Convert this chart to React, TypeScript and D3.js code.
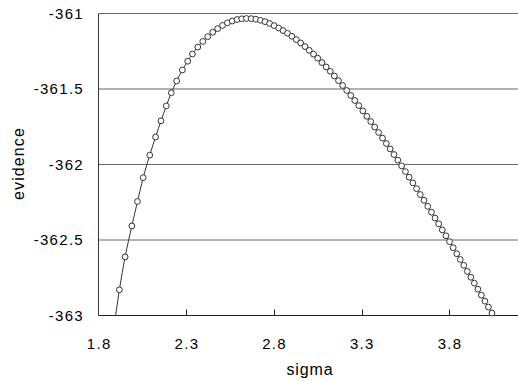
import React from "react";
import * as d3 from "d3";

const sigma = [
  1.8853, 1.9191, 1.9518, 1.9902, 2.0222, 2.0549, 2.0921, 2.1253, 2.1562, 2.1866,
  2.2152, 2.2456, 2.2782, 2.3086, 2.3355, 2.3659, 2.3945, 2.4231, 2.4512, 2.4793,
  2.5073, 2.5348, 2.5623, 2.5898, 2.6167, 2.6437, 2.6706, 2.6969, 2.7233, 2.7496,
  2.7754, 2.8012, 2.8269, 2.8521, 2.8773, 2.9025, 2.9277, 2.9524, 2.977, 3.0016,
  3.0257, 3.0497, 3.0738, 3.0978, 3.1213, 3.1448, 3.1683, 3.1918, 3.2152, 3.2382,
  3.2611, 3.284, 3.3069, 3.3298, 3.3521, 3.3745, 3.3968, 3.4191, 3.4409, 3.4627,
  3.4844, 3.5062, 3.528, 3.5497, 3.5709, 3.5921, 3.6133, 3.6345, 3.6557, 3.6769,
  3.6981, 3.7187, 3.7393, 3.7599, 3.7805, 3.8012, 3.8218, 3.8424, 3.8624, 3.8825,
  3.9025, 3.9226, 3.9426, 3.9627, 3.9827, 4.0028, 4.0228, 4.0429,
];

const evidence = [
  -363.103, -362.83, -362.612, -362.407, -362.245, -362.087, -361.938, -361.818, -361.711, -361.612,
  -361.525, -361.447, -361.374, -361.316, -361.268, -361.222, -361.185, -361.153, -361.124, -361.1,
  -361.079, -361.062, -361.05, -361.04, -361.035, -361.033, -361.034, -361.038, -361.045, -361.054,
  -361.066, -361.08, -361.096, -361.113, -361.131, -361.151, -361.173, -361.195, -361.219, -361.244,
  -361.269, -361.296, -361.325, -361.354, -361.383, -361.414, -361.445, -361.477, -361.51, -361.543,
  -361.576, -361.61, -361.645, -361.681, -361.716, -361.752, -361.788, -361.825, -361.861, -361.897,
  -361.934, -361.971, -362.009, -362.047, -362.084, -362.122, -362.16, -362.199, -362.237, -362.277,
  -362.316, -362.355, -362.393, -362.433, -362.472, -362.511, -362.551, -362.591, -362.629, -362.668,
  -362.708, -362.747, -362.786, -362.826, -362.865, -362.905, -362.944, -362.984,
];

const xTicks = [1.8, 2.3, 2.8, 3.3, 3.8];
const xTickLabels = ["1.8", "2.3", "2.8", "3.3", "3.8"];
const yTicks = [-361, -361.5, -362, -362.5, -363];
const yTickLabels = ["-361", "-361.5", "-362", "-362.5", "-363"];
const xTitle = "sigma";
const yTitle = "evidence";

const W = 518;
const H = 381;
const left = 98.5;
const right = 519.5;
const top = 13.5;
const bottom = 315.5;

export default function App() {
  const x = d3.scaleLinear().domain([1.8, 4.2]).range([left, right]);
  const y = d3.scaleLinear().domain([-363, -361]).range([bottom, top]);
  const pts = sigma.map((s, i) => ({ s, v: evidence[i] }));
  const line = d3
    .line<{ s: number; v: number }>()
    .x((d) => x(d.s))
    .y((d) => y(d.v))
    .curve(d3.curveMonotoneX);
  const font = "'Liberation Sans', Arial, sans-serif";
  return (
    <svg
      width={W}
      height={H}
      style={{ position: "absolute", left: 0, top: 0, background: "#fff" }}
    >
      <defs>
        <clipPath id="plotclip">
          <rect x={left} y={top - 1} width={right - left} height={bottom - top + 1.5} />
        </clipPath>
      </defs>
      <rect x={0} y={0} width={W} height={H} fill="#fff" />
      {yTicks.slice(0, 4).map((t) => (
        <line
          key={t}
          x1={left}
          x2={W}
          y1={y(t)}
          y2={y(t)}
          stroke="#666"
          strokeWidth={1}
        />
      ))}
      <line x1={left} x2={W} y1={bottom} y2={bottom} stroke="#222" strokeWidth={1} />
      <line x1={left} x2={left} y1={top} y2={bottom} stroke="#333" strokeWidth={1} />
      {xTicks.slice(1).map((t) => (
        <line
          key={t}
          x1={Math.round(x(t)) + 0.5}
          x2={Math.round(x(t)) + 0.5}
          y1={bottom}
          y2={bottom - 6}
          stroke="#222"
          strokeWidth={1}
        />
      ))}
      {yTicks.map((t, i) => (
        <text
          key={t}
          x={84}
          y={y(t) + 5.3}
          textAnchor="end"
          fontFamily={font}
          fontSize={15}
          letterSpacing={1.3}
          fill="#000"
        >
          {yTickLabels[i]}
        </text>
      ))}
      {xTicks.map((t, i) => (
        <text
          key={t}
          x={x(t) + 0.7}
          y={349}
          textAnchor="middle"
          fontFamily={font}
          fontSize={15}
          letterSpacing={1.3}
          fill="#000"
        >
          {xTickLabels[i]}
        </text>
      ))}
      <text
        x={310}
        y={374.5}
        textAnchor="middle"
        fontFamily={font}
        fontSize={16}
        letterSpacing={0.9}
        fill="#000"
      >
        {xTitle}
      </text>
      <text
        transform={`translate(24, ${(top + bottom) / 2 - 1}) rotate(-90)`}
        textAnchor="middle"
        fontFamily={font}
        fontSize={16}
        letterSpacing={1.1}
        fill="#000"
      >
        {yTitle}
      </text>
      <path
        d={line(pts) || ""}
        fill="none"
        stroke="#333"
        strokeWidth={1}
        clipPath="url(#plotclip)"
      />
      {pts
        .filter((d) => d.v >= -363.02)
        .map((d, i) => (
          <circle
            key={i}
            cx={x(d.s)}
            cy={y(d.v)}
            r={2.9}
            fill="#fff"
            stroke="#333"
            strokeWidth={1}
          />
        ))}
    </svg>
  );
}
